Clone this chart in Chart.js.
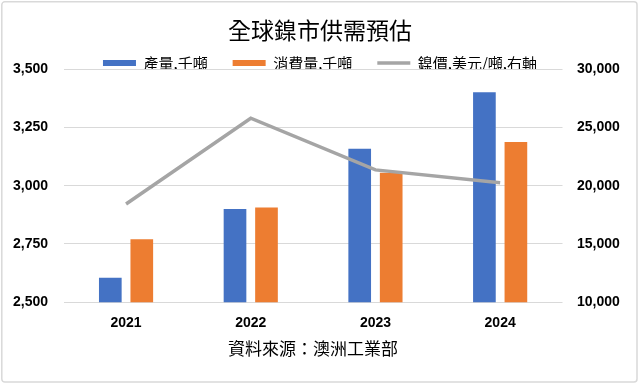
<!DOCTYPE html>
<html>
<head>
<meta charset="utf-8">
<script src="https://cdn.jsdelivr.net/npm/chart.js@4.4.1/dist/chart.umd.min.js"></script>
<style>
html,body{margin:0;padding:0;background:#fff;}
#wrap{position:relative;width:640px;height:386px;}
canvas{display:block;}
</style>
</head>
<body>
<div id="wrap"><canvas id="c" width="640" height="386"></canvas></div>
<script>
const categories = ['2021', '2022', '2023', '2024'];
const production = [2605, 2900, 3158, 3400];
const consumption = [2770, 2906, 3055, 3187];
const nickelPrice = [18430, 25780, 21350, 20250];
const leftTicks = [2500, 2750, 3000, 3250, 3500];
const rightTicks = [10000, 15000, 20000, 25000, 30000];
const seriesNames = ['產量,千噸', '消費量,千噸', '鎳價,美元/噸,右軸'];
const titleText = '全球鎳市供需預估';
const sourceText = '資料來源：澳洲工業部';

const CJK = '"Noto Sans CJK TC", "Noto Sans CJK SC", sans-serif';
const NUM = '"Liberation Sans", Arial, sans-serif';

const frame = {
  id: 'frame',
  beforeDraw(chart) {
    const ctx = chart.ctx;
    ctx.save();
    ctx.fillStyle = '#fff';
    ctx.fillRect(0, 0, chart.width, chart.height);
    ctx.restore();
  },
  afterDraw(chart) {
    const ctx = chart.ctx;
    ctx.save();
    ctx.strokeStyle = '#D9D9D9';
    ctx.lineWidth = 1.5;
    ctx.beginPath();
    if (ctx.roundRect) ctx.roundRect(1.8, 1.8, 635.2, 380.2, 3);
    else ctx.rect(1.8, 1.8, 635.2, 380.2);
    ctx.stroke();
    ctx.restore();
  }
};

const legendShrink = {
  id: 'legendShrink',
  beforeInit(chart) {
    const lg = chart.legend;
    if (!lg) return;
    const orig = lg.fit;
    lg.fit = function () {
      orig.call(this);
      this.height = Math.max(0, this.height - 11.6);
    };
  }
};

new Chart(document.getElementById('c'), {
  type: 'bar',
  data: {
    labels: categories,
    datasets: [
      {
        label: seriesNames[0],
        data: production,
        backgroundColor: '#4472C4',
        borderWidth: 0,
        yAxisID: 'y',
        order: 1,
        categoryPercentage: 0.505,
        barPercentage: 0.72
      },
      {
        label: seriesNames[1],
        data: consumption,
        backgroundColor: '#ED7D31',
        borderWidth: 0,
        yAxisID: 'y',
        order: 1,
        categoryPercentage: 0.505,
        barPercentage: 0.72
      },
      {
        type: 'line',
        label: seriesNames[2],
        data: nickelPrice,
        borderColor: '#A5A5A5',
        backgroundColor: '#A5A5A5',
        borderWidth: 3.5,
        pointRadius: 0,
        tension: 0,
        yAxisID: 'y1',
        order: 0
      }
    ]
  },
  options: {
    responsive: false,
    animation: false,
    devicePixelRatio: 1,
    layout: { padding: { top: 0, left: 0, right: 0, bottom: 0 } },
    plugins: {
      tooltip: { enabled: false },
      title: {
        display: true,
        text: titleText,
        color: '#000',
        font: { family: CJK, size: 23, weight: 'normal' },
        padding: { top: 16, bottom: -13 }
      },
      subtitle: {
        display: true,
        text: sourceText,
        position: 'bottom',
        fullSize: false,
        color: '#000',
        font: { family: CJK, size: 17, weight: 'normal' },
        padding: { top: 7.7, bottom: 26.8 }
      },
      legend: {
        display: true,
        position: 'top',
        labels: {
          color: '#000',
          font: { family: CJK, size: 15 },
          usePointStyle: true,
          pointStyleWidth: 33,
          boxWidth: 33,
          boxHeight: 6,
          padding: 25,
          sort: (a, b) => a.datasetIndex - b.datasetIndex,
          generateLabels: (chart) => {
            const items = Chart.defaults.plugins.legend.labels.generateLabels(chart);
            return items.map(it => {
              if (it.datasetIndex === 2) {
                it.pointStyle = 'line';
                it.lineWidth = 3.5;
                it.strokeStyle = '#A5A5A5';
              } else {
                it.pointStyle = 'rect';
                it.lineWidth = 0;
              }
              return it;
            });
          }
        }
      }
    },
    scales: {
      x: {
        type: 'category',
        offset: true,
        grid: { display: false, drawTicks: false },
        border: { display: false },
        afterFit: (s) => { s.height = 28.8; },
        ticks: {
          color: '#000',
          font: { family: NUM, size: 14, weight: 'bold' },
          padding: 12
        }
      },
      y: {
        position: 'left',
        min: leftTicks[0],
        max: leftTicks[leftTicks.length - 1],
        afterBuildTicks: (s) => { s.ticks = leftTicks.map(v => ({ value: v })); },
        afterFit: (s) => { s.width = 63.7; },
        grid: { color: '#D9D9D9', lineWidth: 1, drawTicks: false },
        border: { display: false },
        ticks: {
          color: '#000',
          font: { family: NUM, size: 14, weight: 'bold' },
          padding: 15.7,
          callback: (v) => Number(v).toLocaleString('en-US')
        }
      },
      y1: {
        position: 'right',
        min: rightTicks[0],
        max: rightTicks[rightTicks.length - 1],
        afterBuildTicks: (s) => { s.ticks = rightTicks.map(v => ({ value: v })); },
        afterFit: (s) => { s.width = 77.5; },
        grid: { display: false, drawTicks: false },
        border: { display: false },
        ticks: {
          color: '#000',
          font: { family: NUM, size: 14, weight: 'bold' },
          padding: 14.5,
          callback: (v) => Number(v).toLocaleString('en-US')
        }
      }
    }
  },
  plugins: [frame, legendShrink]
});
</script>
</body>
</html>
